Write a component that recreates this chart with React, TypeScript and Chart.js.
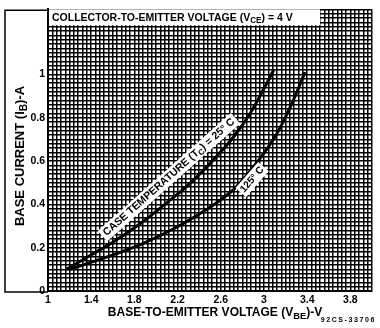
import React, { useEffect, useRef } from "react";
import { Chart, registerables } from "chart.js";

Chart.register(...registerables);

// ---- data ----
const vbe25 = [1.17, 1.39, 1.6, 1.85, 2.1, 2.32, 2.53, 2.72, 2.87, 2.99, 3.09];
const ib25 = [0.1, 0.164, 0.225, 0.309, 0.407, 0.499, 0.605, 0.712, 0.818, 0.925, 1.02];

const vbe125 = [1.2, 1.54, 1.85, 2.16, 2.47, 2.72, 2.93, 3.12, 3.27, 3.38];
const ib125 = [0.1, 0.156, 0.213, 0.286, 0.377, 0.469, 0.59, 0.727, 0.879, 1.01];

const xTickLabels = ["1", "1.4", "1.8", "2.2", "2.6", "3", "3.4", "3.8"];
const yTickLabels = ["0", "0.2", "0.4", "0.6", "0.8", "1"];

const X_MIN = 1;
const X_MAX = 4;
const Y_MIN = 0;
const Y_MAX = 1.3;
const X_MINOR = 0.04;
const Y_MINOR = 0.02;

const label25Pos = { x: 2.12, y: 0.525 };
const label125Pos = { x: 2.89, y: 0.514 };

type Part = { t: string; sub?: boolean };

const FAMILY = '"Liberation Sans", Arial, sans-serif';

function minorTicks(min: number, max: number, step: number) {
  const n = Math.round((max - min) / step);
  const out: { value: number }[] = [];
  for (let k = 0; k <= n; k++) out.push({ value: +(min + k * step).toFixed(4) });
  return out;
}

function richWidth(ctx: CanvasRenderingContext2D, parts: Part[], size: number) {
  let w = 0;
  for (const p of parts) {
    ctx.font = `bold ${p.sub ? size * 0.78 : size}px ${FAMILY}`;
    w += ctx.measureText(p.t).width;
  }
  return w;
}

function drawRich(
  ctx: CanvasRenderingContext2D,
  parts: Part[],
  x: number,
  y: number,
  angle: number,
  size: number,
  align: "left" | "center",
  box?: { padX: number; h: number }
) {
  ctx.save();
  ctx.translate(x, y);
  ctx.rotate(angle);
  const w = richWidth(ctx, parts, size);
  let cx = align === "center" ? -w / 2 : 0;
  if (box) {
    ctx.fillStyle = "#fff";
    ctx.fillRect(cx - box.padX, -box.h / 2, w + box.padX * 2, box.h);
  }
  ctx.fillStyle = "#000";
  ctx.textBaseline = "middle";
  ctx.textAlign = "left";
  for (const p of parts) {
    ctx.font = `bold ${p.sub ? size * 0.78 : size}px ${FAMILY}`;
    ctx.fillText(p.t, cx, p.sub ? size * 0.3 : 0);
    cx += ctx.measureText(p.t).width;
  }
  ctx.restore();
}

const decorPlugin = {
  id: "decor",
  afterDatasetsDraw(chart: any) {
    const ctx: CanvasRenderingContext2D = chart.ctx;
    const xs = chart.scales.x;
    const ys = chart.scales.y;
    const p1x = xs.getPixelForValue(label25Pos.x);
    const p1y = ys.getPixelForValue(label25Pos.y);
    drawRich(
      ctx,
      [
        { t: "CASE TEMPERATURE (T" },
        { t: "C", sub: true },
        { t: ") = 25° C" },
      ],
      p1x,
      p1y,
      (-41.5 * Math.PI) / 180,
      10.5,
      "center",
      { padX: 3, h: 14 }
    );
    const p2x = xs.getPixelForValue(label125Pos.x);
    const p2y = ys.getPixelForValue(label125Pos.y);
    drawRich(ctx, [{ t: "125° C" }], p2x, p2y, (-49 * Math.PI) / 180, 10, "center", {
      padX: 2,
      h: 14,
    });
  },
  afterDraw(chart: any) {
    const ctx: CanvasRenderingContext2D = chart.ctx;
    const ca = chart.chartArea;
    // title box
    ctx.save();
    ctx.fillStyle = "#fff";
    ctx.fillRect(ca.left + 1, ca.top, 271, 16);
    ctx.restore();
    drawRich(
      ctx,
      [
        { t: "COLLECTOR-TO-EMITTER VOLTAGE (V" },
        { t: "CE", sub: true },
        { t: ") = 4 V" },
      ],
      ca.left + 4,
      ca.top + 8.5,
      0,
      10.5,
      "left"
    );
    // outer frame around y-axis area
    ctx.save();
    ctx.strokeStyle = "#000";
    ctx.lineWidth = 1.5;
    ctx.beginPath();
    ctx.moveTo(ca.left, ca.top + 1);
    ctx.lineTo(5, ca.top + 1);
    ctx.lineTo(5, ca.bottom + 1);
    ctx.lineTo(ca.left, ca.bottom + 1);
    ctx.stroke();
    ctx.restore();
    // axis titles
    drawRich(
      ctx,
      [{ t: "BASE CURRENT (I" }, { t: "B", sub: true }, { t: ")-A" }],
      20,
      156,
      -Math.PI / 2,
      13,
      "center"
    );
    drawRich(
      ctx,
      [{ t: "BASE-TO-EMITTER VOLTAGE (V" }, { t: "BE", sub: true }, { t: ")-V" }],
      215,
      313,
      0,
      12,
      "center"
    );
    ctx.save();
    ctx.fillStyle = "#000";
    ctx.font = `bold 7px ${FAMILY}`;
    (ctx as any).letterSpacing = "1.6px";
    ctx.textAlign = "right";
    ctx.textBaseline = "middle";
    ctx.fillText("92CS-33706", 376, 320);
    ctx.restore();
  },
};

export default function App() {
  const ref = useRef<HTMLCanvasElement | null>(null);

  useEffect(() => {
    document.body.style.margin = "0";
    const canvas = ref.current;
    if (!canvas) return;

    const labelFor = (labels: string[]) => (value: any) => {
      const v = Number(value);
      const hit = labels.find((l) => Math.abs(parseFloat(l) - v) < 1e-6);
      return hit ?? "";
    };

    const chart = new Chart(canvas, {
      type: "scatter",
      data: {
        datasets: [
          {
            label: "25° C",
            data: vbe25.map((v, k) => ({ x: v, y: ib25[k] })),
            showLine: true,
            borderColor: "#000",
            borderWidth: 3,
            pointRadius: 0,
            cubicInterpolationMode: "monotone",
          },
          {
            label: "125° C",
            data: vbe125.map((v, k) => ({ x: v, y: ib125[k] })),
            showLine: true,
            borderColor: "#000",
            borderWidth: 3,
            pointRadius: 0,
            cubicInterpolationMode: "monotone",
          },
        ],
      },
      options: {
        animation: false,
        responsive: false,
        devicePixelRatio: 1,
        layout: { padding: { left: 0, top: 6, right: 8, bottom: 0 } },
        plugins: {
          legend: { display: false },
          tooltip: { enabled: false },
        },
        scales: {
          x: {
            type: "linear",
            min: X_MIN,
            max: X_MAX,
            afterBuildTicks: (scale: any) => {
              scale.ticks = minorTicks(X_MIN, X_MAX, X_MINOR);
            },
            afterFit: (scale: any) => {
              scale.height = 37;
            },
            ticks: {
              autoSkip: false,
              maxRotation: 0,
              minRotation: 0,
              padding: 3,
              color: "#000",
              font: { family: FAMILY, size: 10.5, weight: "bold" },
              callback: labelFor(xTickLabels),
            },
            grid: { color: "#000", lineWidth: 1.5, drawTicks: false },
            border: { display: true, color: "#000", width: 2 },
          },
          y: {
            type: "linear",
            min: Y_MIN,
            max: Y_MAX,
            afterBuildTicks: (scale: any) => {
              scale.ticks = minorTicks(Y_MIN, Y_MAX, Y_MINOR);
            },
            afterFit: (scale: any) => {
              scale.width = 48;
            },
            ticks: {
              autoSkip: false,
              padding: 3,
              color: "#000",
              font: { family: FAMILY, size: 10.5, weight: "bold" },
              callback: labelFor(yTickLabels),
            },
            grid: { color: "#000", lineWidth: 1.5, drawTicks: false },
            border: { display: true, color: "#000", width: 2 },
          },
        },
      },
      plugins: [decorPlugin],
    } as any);

    return () => chart.destroy();
  }, []);

  return (
    <div style={{ width: 380, height: 328, position: "relative", background: "#fff" }}>
      <canvas ref={ref} width={380} height={328} style={{ display: "block" }} />
    </div>
  );
}
